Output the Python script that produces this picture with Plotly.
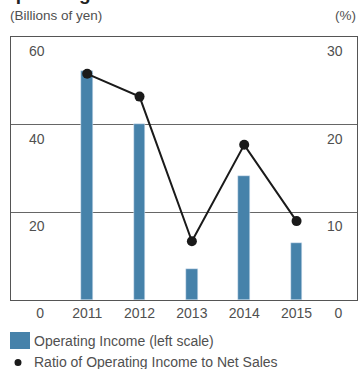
import plotly.graph_objects as go

years = [2011, 2012, 2013, 2014, 2015]
operating_income = [52.2, 40.2, 7.1, 28.2, 13.0]
ratio = [25.8, 23.2, 6.7, 17.7, 9.0]
left_ticks = [20, 40, 60]
right_ticks = [10, 20, 30]
x_tickvals = [2010.1, 2011, 2012, 2013, 2014, 2015, 2015.8]
x_ticktext = ["0", "2011", "2012", "2013", "2014", "2015", "0"]

BAR = "#4682aa"
FONT = "Liberation Sans, Arial, sans-serif"
TXT = "#505050"

fig = go.Figure()
fig.add_trace(go.Bar(x=years, y=operating_income, marker_color=BAR, width=0.224,
                     name="Operating Income (left scale)", showlegend=False))
fig.add_trace(go.Scatter(x=years, y=ratio, yaxis="y2", mode="lines+markers",
                         line=dict(color="#1a1a1a", width=2),
                         marker=dict(color="#1a1a1a", size=10),
                         name="Ratio of Operating Income to Net Sales", showlegend=False))

ann = []
for v in left_ticks:
    ann.append(dict(x=2010.04, y=v, xref="x", yref="y", text=str(v), showarrow=False,
                    xanchor="center", yanchor="top", yshift=-4,
                    font=dict(size=14, color=TXT, family=FONT)))
for v in right_ticks:
    ann.append(dict(x=2015.73, y=v, xref="x", yref="y2", text=str(v), showarrow=False,
                    xanchor="center", yanchor="top", yshift=-4,
                    font=dict(size=14, color=TXT, family=FONT)))

ann.append(dict(x=-3/346, y=1 + 12/263, xref="paper", yref="paper", text="(Billions of yen)",
                showarrow=False, xanchor="left", yanchor="bottom",
                font=dict(size=13.5, color=TXT, family=FONT)))
ann.append(dict(x=1 + 1/346, y=1 + 12/263, xref="paper", yref="paper", text="(%)",
                showarrow=False, xanchor="right", yanchor="bottom",
                font=dict(size=13.5, color=TXT, family=FONT)))
ann.append(dict(x=-12/346, y=1 + 31/263, xref="paper", yref="paper", text="<b>Operating Income</b>",
                showarrow=False, xanchor="left", yanchor="bottom",
                font=dict(size=19, color="#222222", family=FONT)))
# legend texts
ann.append(dict(x=21/346, y=-41/263, xref="paper", yref="paper", text="Operating Income (left scale)",
                showarrow=False, xanchor="left", yanchor="middle",
                font=dict(size=14, color=TXT, family=FONT)))
ann.append(dict(x=21/346, y=-62/263, xref="paper", yref="paper", text="Ratio of Operating Income to Net Sales",
                showarrow=False, xanchor="left", yanchor="middle",
                font=dict(size=14, color=TXT, family=FONT)))

shapes = [
    dict(type="rect", xref="paper", yref="paper", x0=-1/346, x1=19/346,
         y0=-32/263, y1=-49/263, fillcolor=BAR, line=dict(width=0)),
    dict(type="circle", xref="paper", yref="paper", x0=3.5/346, x1=10.5/346,
         y0=-59/263, y1=-66/263, fillcolor="#1a1a1a", line=dict(width=0)),
]

fig.update_layout(
    width=358, height=369,
    margin=dict(l=11, r=1, t=37, b=69),
    plot_bgcolor="white", paper_bgcolor="white",
    font=dict(family=FONT, size=14, color=TXT),
    xaxis=dict(range=[2009.544, 2016.155], tickvals=x_tickvals, ticktext=x_ticktext,
               showgrid=False, zeroline=False, showline=True, mirror=True,
               linecolor="#555555", linewidth=1, ticks="", ticklen=0,
               tickfont=dict(size=14, color=TXT, family=FONT)),
    yaxis=dict(range=[0, 60], tickvals=[20, 40], showticklabels=False, showgrid=True,
               gridcolor="#666666", gridwidth=1, zeroline=False, showline=True, mirror=True,
               linecolor="#555555", linewidth=1, ticks=""),
    yaxis2=dict(range=[0, 30], overlaying="y", side="right", showticklabels=False,
                showgrid=False, zeroline=False, showline=False, ticks=""),
    annotations=ann, shapes=shapes, bargap=0,
)

fig.write_html("out.html")
